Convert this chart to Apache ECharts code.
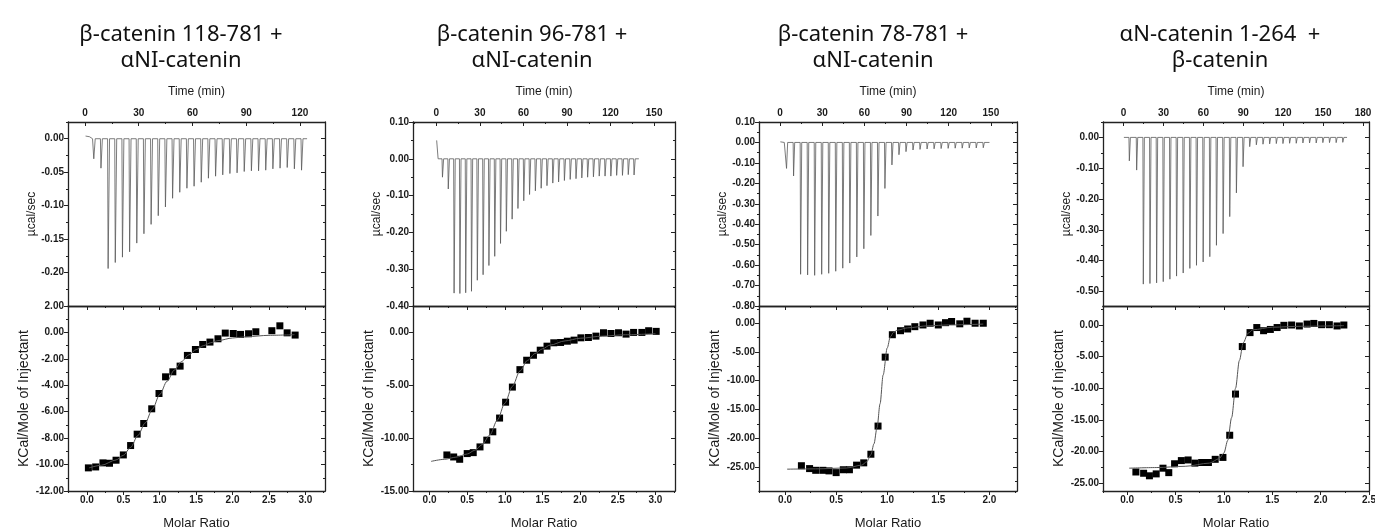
<!DOCTYPE html>
<html>
<head>
<meta charset="utf-8">
<script src="https://cdn.jsdelivr.net/npm/echarts@6.0.0/dist/echarts.min.js"></script>
<style>
  html, body { margin: 0; padding: 0; background: #fff; }
  #chart { width: 1375px; height: 531px; }
</style>
</head>
<body>
<div id="chart"></div>
<script>
// ---- titles ----
const titleTexts = [
  "β-catenin 118-781 +\nαNI-catenin",
  "β-catenin 96-781 +\nαNI-catenin",
  "β-catenin 78-781 +\nαNI-catenin",
  "αN-catenin 1-264  +\nβ-catenin"
];

// ---- panel 1 : raw injections (min, µcal/sec) ----
const p1InjTime = [4.6, 8.6, 12.6, 16.6, 20.6, 24.6, 28.6, 32.6, 36.6, 40.6, 44.6, 48.6, 52.6, 56.6, 60.6,
  64.6, 68.6, 72.6, 76.6, 80.6, 84.6, 88.6, 92.6, 96.6, 100.6, 104.6, 108.6, 112.6, 116.6, 120.6];
const p1InjPeak = [-0.030, -0.044, -0.194, -0.185, -0.177, -0.169, -0.156, -0.142, -0.128, -0.115, -0.102,
  -0.089, -0.080, -0.074, -0.071, -0.065, -0.059, -0.056, -0.054, -0.052, -0.051, -0.049, -0.048, -0.048,
  -0.047, -0.045, -0.044, -0.043, -0.045, -0.047];
const p1Lead = [[0.3, 0.004], [2.5, 0.003], [4.2, 0]];
const p1End = 124;
// panel 1 : integrated heats
const p1Ratio = [0.02, 0.12, 0.22, 0.31, 0.40, 0.50, 0.60, 0.69, 0.78, 0.89, 0.99, 1.08, 1.18, 1.28, 1.38,
  1.49, 1.59, 1.69, 1.80, 1.90, 2.01, 2.11, 2.22, 2.32, 2.54, 2.65, 2.75, 2.86];
const p1Heat = [-10.25, -10.18, -9.87, -9.90, -9.67, -9.27, -8.56, -7.70, -6.89, -5.78, -4.62, -3.36, -2.98,
  -2.55, -1.74, -1.29, -0.91, -0.73, -0.48, -0.05, -0.08, -0.15, -0.10, 0.05, 0.13, 0.50, -0.03, -0.20];
const p1FitRatio = [0.03, 0.2, 0.4, 0.5, 0.6, 0.7, 0.8, 0.9, 1.0, 1.1, 1.2, 1.3, 1.4, 1.5, 1.6, 1.7, 1.8, 2.0, 2.2, 2.5, 2.85];
const p1FitHeat = [-10.25, -10.05, -9.65, -9.3, -8.7, -7.8, -6.85, -5.8, -4.7, -3.7, -2.85, -2.2, -1.7, -1.3,
  -1.0, -0.78, -0.62, -0.42, -0.32, -0.22, -0.17];

// ---- panel 2 ----
const p2InjTime = [3.9, 7.9, 11.9, 15.9, 19.9, 23.9, 27.9, 31.9, 35.9, 39.9, 43.9, 47.9, 51.9, 55.9, 59.9, 63.9,
  67.9, 71.9, 75.9, 79.9, 83.9, 87.9, 91.9, 95.9, 99.9, 103.9, 107.9, 111.9, 115.9, 119.9, 123.9, 127.9, 131.9, 135.9];
const p2InjPeak = [-0.050, -0.082, -0.365, -0.366, -0.364, -0.360, -0.330, -0.315, -0.290, -0.265, -0.230,
  -0.197, -0.164, -0.135, -0.114, -0.097, -0.087, -0.080, -0.073, -0.066, -0.063, -0.059, -0.056, -0.054,
  -0.052, -0.050, -0.049, -0.047, -0.047, -0.047, -0.045, -0.045, -0.043, -0.044];
const p2Lead = [[0.2, 0.05], [1.2, 0]];
const p2End = 139.5;
const p2Ratio = [0.23, 0.32, 0.40, 0.50, 0.58, 0.67, 0.76, 0.84, 0.93, 1.01, 1.10, 1.20, 1.29, 1.38, 1.47, 1.56,
  1.65, 1.74, 1.83, 1.92, 2.01, 2.11, 2.21, 2.31, 2.41, 2.51, 2.61, 2.71, 2.82, 2.91, 3.01];
const p2Heat = [-11.59, -11.78, -12.0, -11.46, -11.37, -10.83, -10.19, -9.40, -8.10, -6.60, -5.17, -3.52, -2.63,
  -2.16, -1.68, -1.30, -0.98, -0.95, -0.83, -0.73, -0.51, -0.48, -0.35, -0.03, -0.10, -0.03, -0.16, 0.0, 0.0, 0.16, 0.10];
const p2FitRatio = [0.02, 0.2, 0.35, 0.5, 0.6, 0.7, 0.8, 0.9, 1.0, 1.1, 1.2, 1.3, 1.4, 1.5, 1.6, 1.8, 2.0, 2.3, 2.6, 3.0];
const p2FitHeat = [-12.2, -12.0, -11.8, -11.5, -11.15, -10.6, -9.7, -8.3, -6.7, -5.1, -3.65, -2.65, -2.0, -1.55,
  -1.2, -0.8, -0.55, -0.35, -0.22, -0.12];

// ---- panel 3 ----
const p3InjTime = [4.3, 9.3, 14.3, 19.3, 24.3, 29.3, 34.3, 39.3, 44.3, 49.3, 54.3, 59.3, 64.3, 69.3, 74.3, 79.3,
  84.3, 89.3, 94.3, 99.3, 104.3, 109.3, 114.3, 119.3, 124.3, 129.3, 134.3, 139.3, 144.3];
const p3InjPeak = [-0.127, -0.164, -0.645, -0.648, -0.650, -0.645, -0.640, -0.630, -0.615, -0.590, -0.560,
  -0.520, -0.455, -0.360, -0.225, -0.110, -0.060, -0.045, -0.037, -0.034, -0.032, -0.031, -0.030, -0.029,
  -0.028, -0.028, -0.027, -0.027, -0.026];
const p3Lead = [[0.2, 0.003], [3, 0]];
const p3End = 149;
const p3Ratio = [0.16, 0.24, 0.30, 0.37, 0.43, 0.50, 0.57, 0.63, 0.70, 0.77, 0.84, 0.91, 0.98, 1.05, 1.13, 1.20,
  1.27, 1.35, 1.42, 1.50, 1.57, 1.63, 1.71, 1.78, 1.86, 1.94];
const p3Heat = [-24.8, -25.3, -25.6, -25.6, -25.7, -26.0, -25.5, -25.5, -24.7, -24.3, -22.8, -17.9, -5.9, -2.0,
  -1.3, -1.0, -0.6, -0.3, 0.0, -0.3, 0.1, 0.3, -0.1, 0.35, 0.0, 0.0];
const p3FitRatio = [0.02, 0.3, 0.6, 0.75, 0.8, 0.84, 0.87, 0.9, 0.93, 0.96, 1.0, 1.03, 1.06, 1.1, 1.2, 1.4, 1.6, 1.94];
const p3FitHeat = [-25.4, -25.35, -25.2, -24.7, -24.1, -22.9, -21.0, -18.2, -14.0, -9.0, -4.3, -2.4, -1.6, -1.2,
  -0.8, -0.45, -0.3, -0.15];

// ---- panel 4 ----
const p4InjTime = [4, 9.5, 14.5, 19.5, 24.5, 29.5, 34.5, 39.5, 44.5, 49.5, 54.5, 59.5, 64.5, 69.5, 74.5, 79.5,
  84.5, 89.5, 94.5, 99.5, 104.5, 109.5, 114.5, 119.5, 124.5, 129.5, 134.5, 139.5, 144.5, 149.5, 154.5, 159.5, 164.5];
const p4InjPeak = [-0.076, -0.106, -0.476, -0.474, -0.472, -0.468, -0.460, -0.450, -0.440, -0.425, -0.415,
  -0.404, -0.387, -0.350, -0.312, -0.257, -0.180, -0.095, -0.030, -0.024, -0.022, -0.021, -0.020, -0.020,
  -0.019, -0.019, -0.018, -0.018, -0.018, -0.017, -0.017, -0.017, -0.016];
const p4Lead = [[0.2, 0]];
const p4End = 168;
const p4Ratio = [0.09, 0.17, 0.23, 0.30, 0.37, 0.43, 0.49, 0.56, 0.63, 0.70, 0.77, 0.84, 0.91, 0.99, 1.06, 1.12,
  1.19, 1.27, 1.34, 1.41, 1.48, 1.55, 1.62, 1.70, 1.78, 1.86, 1.93, 2.01, 2.09, 2.17, 2.24];
const p4Heat = [-23.2, -23.4, -23.8, -23.5, -22.6, -23.3, -21.9, -21.4, -21.3, -21.8, -21.7, -21.7, -21.2, -20.9,
  -17.4, -10.9, -3.4, -1.2, -0.4, -0.9, -0.7, -0.4, -0.05, 0.0, -0.15, 0.15, 0.25, 0.05, 0.05, -0.15, 0.0];
const p4FitRatio = [0.02, 0.3, 0.6, 0.85, 0.95, 1.0, 1.04, 1.08, 1.12, 1.16, 1.2, 1.25, 1.3, 1.5, 1.8, 2.24];
const p4FitHeat = [-22.6, -22.5, -22.3, -21.8, -21.1, -20.2, -18.2, -14.6, -10.0, -5.6, -2.8, -1.3, -0.75,
  -0.35, -0.2, -0.1];

// ---- tick labels ----
const timeTicks = [[0, 30, 60, 90, 120], [0, 30, 60, 90, 120, 150], [0, 30, 60, 90, 120, 150], [0, 30, 60, 90, 120, 150, 180]];
const ratioTicks = [[0, 0.5, 1, 1.5, 2, 2.5, 3], [0, 0.5, 1, 1.5, 2, 2.5, 3], [0, 0.5, 1, 1.5, 2], [0, 0.5, 1, 1.5, 2, 2.5]];
const rawTicks = [[0, -0.05, -0.1, -0.15, -0.2], [0.1, 0, -0.1, -0.2, -0.3, -0.4],
  [0.1, 0, -0.1, -0.2, -0.3, -0.4, -0.5, -0.6, -0.7, -0.8], [0, -0.1, -0.2, -0.3, -0.4, -0.5]];
const heatTicks = [[2, 0, -2, -4, -6, -8, -10, -12], [0, -5, -10, -15], [0, -5, -10, -15, -20, -25], [0, -5, -10, -15, -20, -25]];

// ---- layout ----
const panelLeft = [68, 413, 759, 1103];
const panelWidth = [257, 262, 258, 266];
const titleCenter = [176, 527, 868, 1215];
const topY = 122, topH = 184, botY = 306, botH = 185;
const timeRange = [[-9.5, 134], [-16.1, 164.4], [-15, 168.6], [-15.5, 184.5]];
const ratioRange = [[-0.26, 3.27], [-0.22, 3.26], [-0.255, 2.27], [-0.25, 2.5]];
const rawRange = [[-0.25, 0.025], [-0.40, 0.10], [-0.80, 0.10], [-0.547, 0.05]];
const heatRange = [[-12, 2], [-15, 2.5], [-29.2, 3.0], [-26.2, 3.0]];

const raw = [
  [p1InjTime, p1InjPeak, p1Lead, p1End],
  [p2InjTime, p2InjPeak, p2Lead, p2End],
  [p3InjTime, p3InjPeak, p3Lead, p3End],
  [p4InjTime, p4InjPeak, p4Lead, p4End]
];
const heats = [[p1Ratio, p1Heat, p1FitRatio, p1FitHeat], [p2Ratio, p2Heat, p2FitRatio, p2FitHeat],
  [p3Ratio, p3Heat, p3FitRatio, p3FitHeat], [p4Ratio, p4Heat, p4FitRatio, p4FitHeat]];

const AXC = '#222';
const TXT = '#1a1a1a';
const FONT = "'Liberation Sans', Arial, sans-serif";

// spike = sharp drop at injection, back to baseline
function thermogram(times, peaks, lead, end) {
  const pts = lead.slice();
  times.forEach(function (t, i) {
    pts.push([t, 0], [t + 0.3, peaks[i]], [t + 1.1, 0]);
  });
  pts.push([end, 0]);
  return pts;
}

function zip(a, b) {
  return a.map(function (v, i) { return [v, b[i]]; });
}

// minor ticks halfway between majors, kept inside the axis range
function minors(major, min, max) {
  const half = Math.abs(major[1] - major[0]) / 2;
  const out = [];
  major.forEach(function (m) {
    [m - half, m + half].forEach(function (v) {
      v = Math.round(v * 1e6) / 1e6;
      if (v >= min - 1e-9 && v <= max + 1e-9 && out.indexOf(v) < 0 && major.indexOf(v) < 0) out.push(v);
    });
  });
  return out;
}

const grids = [], xAxes = [], yAxes = [], series = [];

function addAxis(list, o) {
  list.push({
    type: 'value',
    gridIndex: o.grid,
    position: o.pos,
    min: o.min,
    max: o.max,
    name: o.name || '',
    nameLocation: 'middle',
    nameGap: o.nameGap || 0,
    nameTextStyle: { fontFamily: FONT, fontSize: o.nameSize || 13, color: TXT },
    axisLine: { show: !!o.line, onZero: false, lineStyle: { color: AXC, width: 1.3 } },
    axisTick: {
      show: true, inside: !!o.inside, length: o.len || 4,
      customValues: o.ticks, lineStyle: { color: AXC, width: 1 }
    },
    axisLabel: o.fmt ? {
      show: true, customValues: o.ticks, formatter: o.fmt, margin: 4,
      fontFamily: FONT, fontSize: 10, fontWeight: 'bold', color: TXT
    } : { show: false },
    splitLine: { show: false },
    minorTick: { show: false },
    axisPointer: { show: false }
  });
  return list.length - 1;
}

function side(list, o, majors) {
  const idx = addAxis(list, Object.assign({}, o, { ticks: majors, line: true, len: 4 }));
  addAxis(list, { grid: o.grid, pos: o.pos, min: o.min, max: o.max, inside: o.inside,
    ticks: minors(majors, o.min, o.max), len: 2 });
  return idx;
}

const f2 = function (v) { return v.toFixed(2); };
const f1 = function (v) { return v.toFixed(1); };
const f0 = function (v) { return String(Math.round(v)); };

for (let i = 0; i < 4; i++) {
  const gTop = grids.length;
  grids.push({ left: panelLeft[i], top: topY, width: panelWidth[i], height: topH, outerBoundsMode: 'none' });
  const gBot = grids.length;
  grids.push({ left: panelLeft[i], top: botY, width: panelWidth[i], height: botH, outerBoundsMode: 'none' });

  const tr = timeRange[i], rr = ratioRange[i], wr = rawRange[i], hr = heatRange[i];

  // top panel axes
  const tx = side(xAxes, { grid: gTop, pos: 'top', min: tr[0], max: tr[1], inside: true, fmt: f0,
    name: 'Time (min)', nameGap: 24, nameSize: 12 }, timeTicks[i]);
  addAxis(xAxes, { grid: gTop, pos: 'bottom', min: tr[0], max: tr[1], ticks: [], line: true, len: 0 });
  const ty = side(yAxes, { grid: gTop, pos: 'left', min: wr[0], max: wr[1], inside: false, fmt: f2,
    name: 'µcal/sec', nameGap: 30, nameSize: 12 }, rawTicks[i]);
  side(yAxes, { grid: gTop, pos: 'right', min: wr[0], max: wr[1], inside: true }, rawTicks[i]);

  // bottom panel axes
  const bx = side(xAxes, { grid: gBot, pos: 'bottom', min: rr[0], max: rr[1], inside: false, fmt: f1,
    name: 'Molar Ratio', nameGap: 26, nameSize: 13 }, ratioTicks[i]);
  side(xAxes, { grid: gBot, pos: 'top', min: rr[0], max: rr[1], inside: true }, ratioTicks[i]);
  const by = side(yAxes, { grid: gBot, pos: 'left', min: hr[0], max: hr[1], inside: false, fmt: f2,
    name: 'KCal/Mole of Injectant', nameGap: 37, nameSize: 14 }, heatTicks[i]);
  side(yAxes, { grid: gBot, pos: 'right', min: hr[0], max: hr[1], inside: true }, heatTicks[i]);

  const r = raw[i];
  series.push({
    type: 'line', xAxisIndex: tx, yAxisIndex: ty,
    data: thermogram(r[0], r[1], r[2], r[3]),
    showSymbol: false, silent: true,
    lineStyle: { color: '#5a5a5a', width: 0.8 }
  });
  const h = heats[i];
  series.push({
    type: 'line', xAxisIndex: bx, yAxisIndex: by,
    data: zip(h[2], h[3]),
    smooth: 0.3, smoothMonotone: 'x', showSymbol: false, silent: true,
    lineStyle: { color: '#555', width: 1 }
  });
  series.push({
    type: 'scatter', xAxisIndex: bx, yAxisIndex: by,
    data: zip(h[0], h[1]),
    symbol: 'rect', symbolSize: 7,
    itemStyle: { color: '#000', opacity: 1 }
  });
}

const chart = echarts.init(document.getElementById('chart'), null, { renderer: 'canvas' });
chart.setOption({
  backgroundColor: '#fff',
  animation: false,
  title: titleTexts.map(function (t, i) {
    return {
      text: t, left: titleCenter[i], top: 17, textAlign: 'center',
      textStyle: { fontFamily: "'Noto Sans', sans-serif", fontSize: 22, fontWeight: 'normal', lineHeight: 26, color: '#111' }
    };
  }),
  grid: grids,
  xAxis: xAxes,
  yAxis: yAxes,
  series: series
});
window.addEventListener('resize', function () { chart.resize(); });
</script>
</body>
</html>
